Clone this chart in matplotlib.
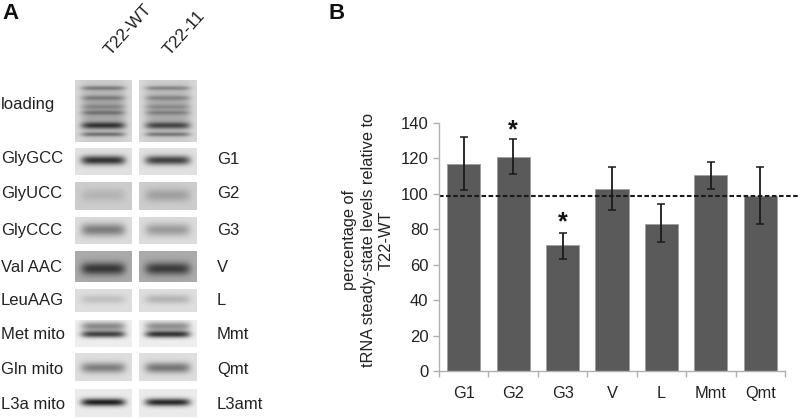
import numpy as np
import matplotlib
matplotlib.use("Agg")
import matplotlib.pyplot as plt

plt.rcParams["font.family"] = ["Liberation Sans", "DejaVu Sans"]

categories = ["G1", "G2", "G3", "V", "L", "Mmt", "Qmt"]
means = [117, 121, 71, 103, 83, 110.5, 99]
err_low = [102, 111, 63, 91, 73, 103, 83]
err_high = [132, 131, 78, 115, 94, 118, 115]
stars = {"G2": 136, "G3": 84}
y_ticks = [0, 20, 40, 60, 80, 100, 120, 140]
ref_level = 99

left_labels = ["loading", "GlyGCC", "GlyUCC", "GlyCCC", "Val AAC", "LeuAAG",
               "Met mito", "Gln mito", "L3a mito"]
right_labels = ["", "G1", "G2", "G3", "V", "L", "Mmt", "Qmt", "L3amt"]
lanes = ["T22-WT", "T22-11"]

# gel rows: pixel top and bottom of the strip
row_top = [80, 148, 182, 217, 251, 289, 320, 353, 389]
row_bottom = [142, 175, 210, 244, 282, 312, 347, 381, 417]
row_background = [215, 225, 205, 220, 170, 222, 238, 222, 235]
# bands per row, (pixel y, thickness, darkness wt, darkness mutant)
row_bands = [
    [(110, 24, 55, 50), (88, 2.2, 70, 60), (98, 2.4, 50, 45), (107, 2.2, 30, 30),
     (113, 2.2, 50, 40), (126, 3.4, 130, 115), (135, 2.2, 85, 80)],
    [(161, 4.6, 175, 160)],
    [(196, 6.5, 25, 45)],
    [(230, 6.5, 95, 65)],
    [(269, 6.5, 115, 110)],
    [(300, 4.5, 30, 42)],
    [(327, 4.5, 100, 95), (335, 3.4, 170, 185)],
    [(368, 5.5, 95, 105)],
    [(403, 3.8, 205, 195)],
]
row_label_y = [104, 159, 193, 230, 267, 300, 334, 369, 404]

fig = plt.figure(figsize=(8.0, 4.19), dpi=100)
W, H = 800, 419


def px_axes(x0, y0, x1, y1):
    return fig.add_axes([x0 / W, 1 - y1 / H, (x1 - x0) / W, (y1 - y0) / H])


def draw_strip(x0, x1, top, bottom, bg, bands, lane):
    ys = np.arange(top, bottom + 1, 0.5)
    xs = np.arange(x0, x1 + 1, 0.5)
    cx = (x0 + x1) / 2
    half = (x1 - x0) / 2 - 6
    lane_x = np.exp(-(np.abs(xs - cx) / half) ** 6)
    dark = np.zeros((len(ys), len(xs)))
    for y, thick, wt, mut in bands:
        level = wt if lane == 0 else mut
        dark += level * np.outer(np.exp(-((ys - y) / thick) ** 2), lane_x)
    ax = px_axes(x0, top, x1, bottom)
    ax.imshow(np.clip(bg - dark, 0, 255), cmap="gray", vmin=0, vmax=255,
              aspect="auto", interpolation="bilinear")
    ax.axis("off")


lane_x = [(75, 132), (139, 197)]
for i, bands in enumerate(row_bands):
    for j, (x0, x1) in enumerate(lane_x):
        draw_strip(x0, x1, row_top[i], row_bottom[i], row_background[i], bands, j)
    fig.text(1 / W, 1 - row_label_y[i] / H, left_labels[i], fontsize=12,
             color="#222222", va="center")
    fig.text(217 / W, 1 - row_label_y[i] / H, right_labels[i], fontsize=12,
             color="#222222", va="center")

fig.text(113 / W, 1 - 58 / H, lanes[0], fontsize=12.5, color="#222222", rotation=48,
         rotation_mode="anchor", ha="left", va="bottom")
fig.text(172 / W, 1 - 58 / H, lanes[1], fontsize=12.5, color="#222222", rotation=48,
         rotation_mode="anchor", ha="left", va="bottom")
fig.text(2 / W, 1 - 19 / H, "A", fontsize=16, fontweight="bold", color="#111111")
fig.text(329 / W, 1 - 19 / H, "B", fontsize=16, fontweight="bold", color="#111111")

# bar panel
ax = px_axes(439, 123, 785, 371)
x = np.arange(len(categories))
means = np.array(means)
yerr = [means - np.array(err_low), np.array(err_high) - means]
ax.bar(x, means, width=0.67, color="#5a5a5a", edgecolor="#a0a0a0", linewidth=0.6)
ax.errorbar(x, means, yerr=yerr, fmt="none", ecolor="#1a1a1a", elinewidth=1.3,
            capsize=3, capthick=1.1)
ax.plot([-0.5, 7.3], [ref_level, ref_level], color="#1a1a1a", lw=1.5,
        dashes=(2.2, 1.2), clip_on=False)
for name, level in stars.items():
    ax.text(categories.index(name), level, "*", fontsize=18, fontweight="bold",
            ha="center", va="center", color="#111111")

ax.set_xlim(-0.5, 6.5)
ax.set_ylim(0, 140)
ax.set_yticks(y_ticks)
ax.set_xticks(np.arange(-0.5, 7, 1))
ax.set_xticklabels([])
ax.set_xticks(x, labels=categories, minor=True)
ax.tick_params(axis="x", which="major", length=4.5, color="#b0b0b0", width=1)
ax.tick_params(axis="x", which="minor", length=0, pad=11, labelsize=11.8,
               labelcolor="#222222")
ax.tick_params(axis="y", length=4.5, color="#b0b0b0", width=1, pad=3, labelsize=12,
               labelcolor="#222222")
for side in ["top", "right"]:
    ax.spines[side].set_visible(False)
for side in ["left", "bottom"]:
    ax.spines[side].set_color("#b0b0b0")
    ax.spines[side].set_linewidth(1)

fig.text(368 / W, 1 - 240 / H, "percentage of\ntRNA steady-state levels relative to\nT22-WT",
         rotation=90, fontsize=11.8, color="#222222", ha="center", va="center",
         multialignment="center", linespacing=1.3)

fig.savefig("out.png", dpi=100)
